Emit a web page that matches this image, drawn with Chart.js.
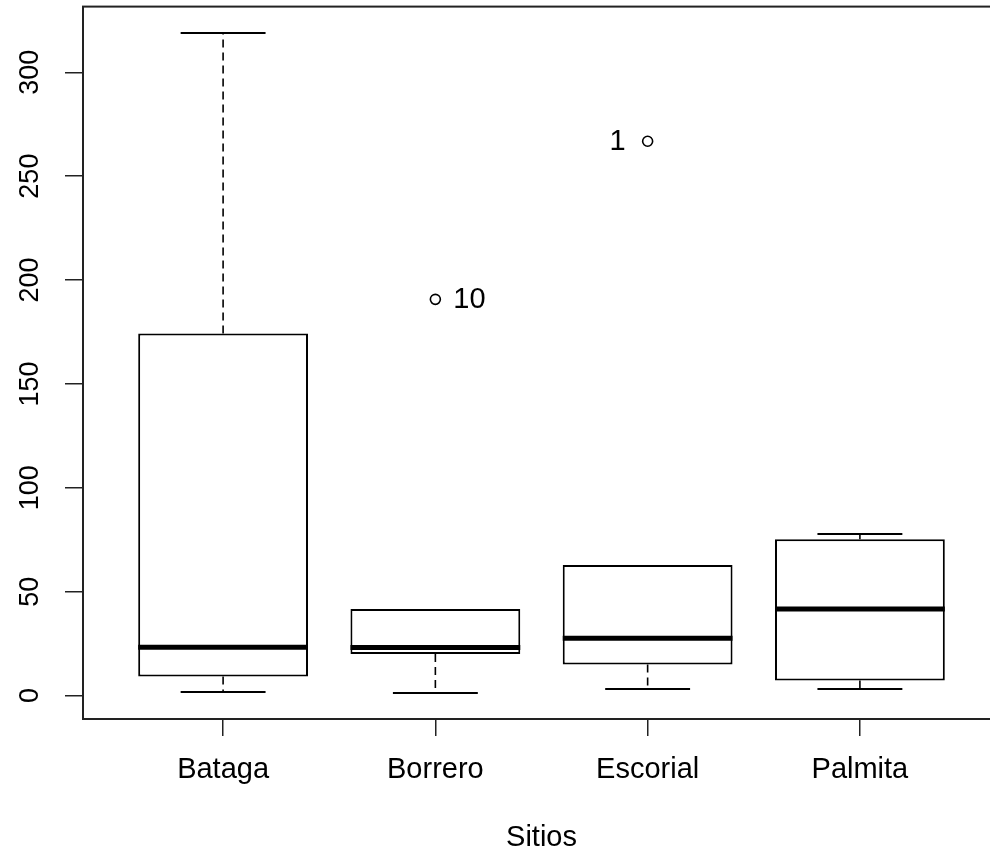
<!DOCTYPE html>
<html>
<head>
<meta charset="utf-8">
<script src="https://cdn.jsdelivr.net/npm/chart.js@4"></script>
<style>
  html, body { margin: 0; padding: 0; background: #fff; overflow: hidden; }
  #wrap { width: 1010px; height: 856px; position: relative; }
</style>
</head>
<body>
<div id="wrap"><canvas id="c"></canvas></div>
<script>
// boxplot stats (R boxplot of values by site)
const sites       = ['Bataga', 'Borrero', 'Escorial', 'Palmita'];
const whiskerLow  = [1.6, 1.4, 3.2, 3.2];
const lowerHinge  = [9.1, 20.0, 14.9, 7.2];
const medians     = [23.2, 23.1, 27.6, 41.7];
const upperHinge  = [174.2, 41.7, 62.8, 75.2];
const whiskerHigh = [318.9, 41.7, 62.8, 77.7];

const outlierSite  = [2, 3];
const outlierValue = [190.7, 266.8];
const outlierLabel = ['10', '1'];
const outlierSide  = ['right', 'left'];

const yTicks = [0, 50, 100, 150, 200, 250, 300];
const xTitle = 'Sitios';

// R style 4% range extension
const allVals = whiskerLow.concat(whiskerHigh, outlierValue);
const yLo = Math.min(...allVals), yHi = Math.max(...allVals);
const yPad = (yHi - yLo) * 0.04;
const xPad = sites.length * 0.04;

const FONT = 'Liberation Sans, Arial, sans-serif';
const INK = '#000';

const rBox = {
  id: 'rBox',
  afterDatasetsDraw(chart) {
    const { ctx, chartArea: a, scales: { x, y } } = chart;
    ctx.save();
    ctx.strokeStyle = INK;
    sites.forEach((s, i) => {
      const cx = x.getPixelForValue(i + 1);
      const half = x.getPixelForValue(i + 1.2) - cx;
      const boxHalf = x.getPixelForValue(i + 1.4) - cx;
      // dashed whiskers
      ctx.lineWidth = 1.6;
      ctx.setLineDash([8, 5]);
      ctx.beginPath();
      ctx.moveTo(cx, y.getPixelForValue(upperHinge[i]));
      ctx.lineTo(cx, y.getPixelForValue(whiskerHigh[i]));
      ctx.moveTo(cx, y.getPixelForValue(lowerHinge[i]));
      ctx.lineTo(cx, y.getPixelForValue(whiskerLow[i]));
      ctx.stroke();
      // staples (hidden by the box edge when whisker == hinge)
      ctx.setLineDash([]);
      ctx.lineWidth = 2;
      ctx.beginPath();
      [[whiskerHigh[i], upperHinge[i]], [whiskerLow[i], lowerHinge[i]]].forEach(([v, h]) => {
        if (v === h) return;
        const py = Math.round(y.getPixelForValue(v));
        ctx.moveTo(cx - half, py);
        ctx.lineTo(cx + half, py);
      });
      ctx.stroke();
      // median
      ctx.lineWidth = 5;
      ctx.beginPath();
      const my = y.getPixelForValue(medians[i]);
      ctx.moveTo(cx - boxHalf, my);
      ctx.lineTo(cx + boxHalf, my);
      ctx.stroke();
    });
    // outlier labels
    ctx.fillStyle = INK;
    ctx.font = '29px ' + FONT;
    ctx.textBaseline = 'middle';
    outlierLabel.forEach((t, i) => {
      const px = x.getPixelForValue(outlierSite[i]);
      const py = y.getPixelForValue(outlierValue[i]);
      ctx.textAlign = outlierSide[i] === 'right' ? 'left' : 'right';
      ctx.fillText(t, outlierSide[i] === 'right' ? px + 18 : px - 22, py + 1);
    });
    // plot frame
    ctx.lineWidth = 2;
    ctx.strokeStyle = '#222';
    ctx.strokeRect(a.left, a.top, a.right - a.left, a.bottom - a.top);
    ctx.restore();
  }
};

new Chart(document.getElementById('c'), {
  type: 'bar',
  data: {
    datasets: [
      {
        type: 'bar',
        data: sites.map((s, i) => ({ x: i + 1, y: [lowerHinge[i], upperHinge[i]] })),
        backgroundColor: '#fff',
        borderColor: INK,
        borderWidth: 2,
        borderSkipped: false,
        categoryPercentage: 1,
        barPercentage: 0.8,
        order: 2
      },
      {
        type: 'scatter',
        data: outlierSite.map((s, i) => ({ x: s, y: outlierValue[i] })),
        pointStyle: 'circle',
        pointRadius: 5,
        borderColor: INK,
        borderWidth: 1.6,
        backgroundColor: 'rgba(0,0,0,0)',
        order: 1
      }
    ]
  },
  options: {
    responsive: true,
    maintainAspectRatio: false,
    animation: false,
    layout: { padding: { left: 0, top: 5, right: 10, bottom: 0 } },
    plugins: { legend: { display: false }, tooltip: { enabled: false } },
    scales: {
      x: {
        type: 'linear',
        offset: false,
        min: 0.5 - xPad,
        max: sites.length + 0.5 + xPad,
        afterBuildTicks: s => { s.ticks = sites.map((n, i) => ({ value: i + 1 })); },
        afterFit: s => { s.height = 137; s.paddingLeft = 0; s.paddingRight = 0; },
        grid: { offset: false, drawOnChartArea: false, drawTicks: true, tickLength: 17, color: '#222', lineWidth: 1.5 },
        border: { display: false },
        ticks: {
          color: INK, font: { family: FONT, size: 29 }, padding: 17,
          maxRotation: 0, autoSkip: false,
          callback: v => sites[v - 1] || ''
        },
        title: {
          display: true, text: xTitle, color: INK,
          font: { family: FONT, size: 29 }, padding: { top: 0, bottom: 1 }
        }
      },
      y: {
        type: 'linear',
        min: yLo - yPad,
        max: yHi + yPad,
        afterBuildTicks: s => { s.ticks = yTicks.map(v => ({ value: v })); },
        afterFit: s => { s.width = 83; s.paddingTop = 0; s.paddingBottom = 0; },
        grid: { drawOnChartArea: false, drawTicks: true, tickLength: 18, color: '#222', lineWidth: 1.5 },
        border: { display: false },
        ticks: {
          color: INK, font: { family: FONT, size: 27 }, padding: 12,
          minRotation: 90, maxRotation: 90, crossAlign: 'center',
          callback: v => String(v)
        }
      }
    }
  },
  plugins: [rBox]
});
</script>
</body>
</html>
